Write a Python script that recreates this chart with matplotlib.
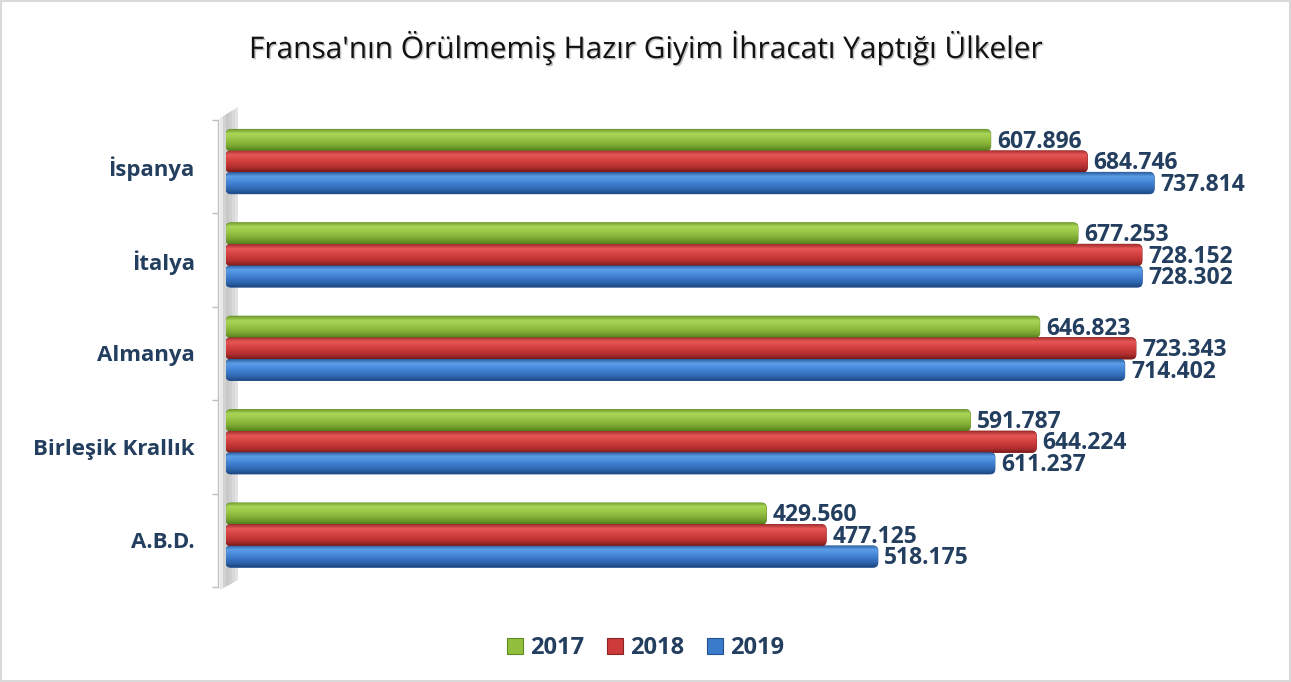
import numpy as np
import matplotlib
matplotlib.use('Agg')
import matplotlib.pyplot as plt
import matplotlib.colors as mcolors
import matplotlib.patheffects as pe
from matplotlib.patches import FancyBboxPatch, Polygon, Rectangle, Patch

# data (top to bottom as in the chart)
countries = ['İspanya', 'İtalya', 'Almanya', 'Birleşik Krallık', 'A.B.D.']
years = ['2017', '2018', '2019']
v2017 = [607.896, 677.253, 646.823, 591.787, 429.560]
v2018 = [684.746, 728.152, 723.343, 644.224, 477.125]
v2019 = [737.814, 728.302, 714.402, 611.237, 518.175]

TITLE = "Fransa'nın Örülmemiş Hazır Giyim İhracatı Yaptığı Ülkeler"
NAVY = '#233E5E'
FONT = ['Open Sans', 'DejaVu Sans']

# gradient stops per series, top edge -> bottom edge
SHADES = {
    '2017': ['#6E9A2C', '#AAD657', '#9CC94A', '#8CB83C', '#76A12F', '#52801C'],
    '2018': ['#A32B2B', '#E65757', '#D94646', '#C93838', '#AE2E2E', '#7A1B1B'],
    '2019': ['#2A5E9E', '#5C9EE8', '#4A8BDB', '#3A78C9', '#2E65AE', '#1E4882'],
}
EDGES = {'2017': '#5E8A22', '2018': '#8A2323', '2019': '#24528E'}
FLAT = {'2017': '#92C03E', '2018': '#CC3A3A', '2019': '#3B7BCC'}

W, H = 1291, 682
fig = plt.figure(figsize=(W / 100, H / 100), dpi=100)
fig.patch.set_facecolor('white')

# axes placed in pixel terms
ax_left, ax_right, ax_top, ax_bot = 226, 1240, 120, 587
ax = fig.add_axes([ax_left / W, 1 - ax_bot / H, (ax_right - ax_left) / W, (ax_bot - ax_top) / H])
ax.patch.set_alpha(0)

n = len(countries)
pos = np.arange(n)[::-1]          # İspanya on top
bh = 0.23
shift = 0.055
series = [('2017', v2017, bh), ('2018', v2018, 0.0), ('2019', v2019, -bh)]

XMAX = 806
ax.set_xlim(0, XMAX)
ax.set_ylim(-0.5, n - 0.5)

# rounding in data units (x scale vs y scale differ a lot)
px_x = (ax_right - ax_left) / XMAX
px_y = (ax_bot - ax_top) / n
r_px = 5
rsize = r_px / px_x
asp = (r_px / px_y) / rsize

grad = np.linspace(0, 1, 64).reshape(-1, 1)
for name, vals, off in series:
    bars = ax.barh(pos + shift + off, vals, height=bh, color=FLAT[name])
    cmap = mcolors.LinearSegmentedColormap.from_list('g' + name, SHADES[name])
    for rect, v in zip(bars, vals):
        rect.set_visible(False)
        x0, y0 = rect.get_x(), rect.get_y()
        w, h = rect.get_width(), rect.get_height()
        fb = FancyBboxPatch((x0, y0), w, h,
                            boxstyle='round,pad=0,rounding_size=%.4f' % rsize,
                            mutation_aspect=asp, facecolor=FLAT[name],
                            edgecolor=EDGES[name], linewidth=0.6, zorder=2)
        ax.add_patch(fb)
        im = ax.imshow(grad, cmap=cmap, aspect='auto', origin='upper',
                       extent=(x0, x0 + w, y0, y0 + h), zorder=2.1)
        im.set_clip_path(fb)
        ax.annotate('%.3f' % v, xy=(v, y0 + h / 2), xytext=(4.5, -1.2),
                    textcoords='offset points', ha='left', va='center',
                    fontsize=16.5, fontweight='bold', color=NAVY, family=FONT,
                    zorder=3)

ax.set_xlim(0, XMAX)
ax.set_ylim(-0.5, n - 0.5)

# axis styling
for s in ['top', 'right', 'bottom']:
    ax.spines[s].set_visible(False)
ax.spines['left'].set_position(('outward', 5.5))
ax.spines['left'].set_color('#BFBFBF')
ax.spines['left'].set_linewidth(1.0)
ax.set_xticks([])
ax.set_yticks(pos)
ax.set_yticklabels(countries)
ax.set_yticks(np.arange(-0.5, n, 1.0), minor=True)
ax.tick_params(axis='y', which='major', length=0, pad=17)
ax.tick_params(axis='y', which='minor', length=4.5, width=1.0, color='#BFBFBF')
for lab in ax.get_yticklabels():
    lab.set_fontsize(16)
    lab.set_fontweight('bold')
    lab.set_color(NAVY)
    lab.set_family(FONT)

# 3D side wall behind the bars
def px(x, y):
    return (x / W, 1 - y / H)

wall_cols = ['#E8E8E8', '#D2D2D2', '#C8C8C8', '#CFCFCF', '#D9D9D9', '#E3E3E3']
xs = np.linspace(220, 238, len(wall_cols) + 1)
for i, c in enumerate(wall_cols):
    xa, xb = xs[i], xs[i + 1]
    ta = 118 - (xa - 220) / 18 * 11
    tb = 118 - (xb - 220) / 18 * 11
    ba = 590 - (xa - 220) / 18 * 10
    bb = 590 - (xb - 220) / 18 * 10
    fig.patches.append(Polygon([px(xa, ta), px(xb, tb), px(xb, bb), px(xa, ba)],
                               closed=True, transform=fig.transFigure,
                               facecolor=c, edgecolor='none', zorder=-1))

# title
fig.text(0.5, 1 - 48 / H, TITLE, ha='center', va='center', fontsize=21.5,
         color='#111111', family=FONT,
         path_effects=[pe.withSimplePatchShadow(offset=(1, -1), alpha=0.25)])

# legend
handles = [Patch(facecolor=FLAT[y], edgecolor=EDGES[y], linewidth=0.8) for y in years]
leg = fig.legend(handles, years, loc='center', bbox_to_anchor=(0.5, 1 - 648 / H),
                 ncol=3, frameon=False, handlelength=0.68, handleheight=0.68,
                 handletextpad=0.3, columnspacing=0.95,
                 prop={'family': FONT, 'weight': 'bold', 'size': 17})
for t in leg.get_texts():
    t.set_color(NAVY)

# outer frame
fig.patches.append(Rectangle((0.001, 0.001), 0.998, 0.997, transform=fig.transFigure,
                             fill=False, edgecolor='#D9D9D9', linewidth=1.5))

fig.savefig('out.png', dpi=100)
